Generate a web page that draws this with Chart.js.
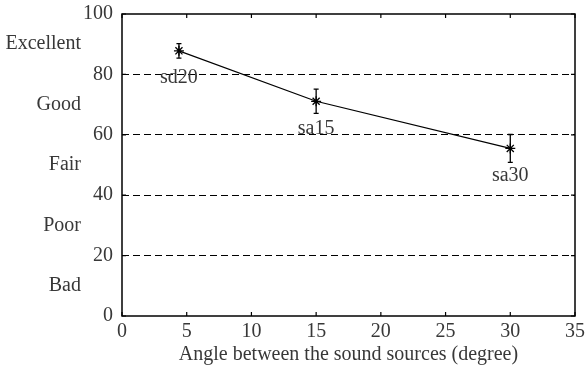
<!DOCTYPE html>
<html>
<head>
<meta charset="utf-8">
<script src="https://cdn.jsdelivr.net/npm/chart.js@4"></script>
<style>body{margin:0;background:#fff}</style>
</head>
<body>
<div style="width:586px;height:372px"><canvas id="chart"></canvas></div>
<script>
// values
const angles = [4.4, 15, 30];
const scores = [87.8, 71.1, 55.5];
const errors = [2.4, 4.0, 4.6];
const pointNames = ['sd20', 'sa15', 'sa30'];
const ratingNames = ['Excellent', 'Good', 'Fair', 'Poor', 'Bad'];
const ratingValues = [90, 70, 50, 30, 10];
const yTicks = [0, 20, 40, 60, 80, 100];
const xTicks = [0, 5, 10, 15, 20, 25, 30, 35];

const FONT = 'Liberation Serif';
const TEXT = '#383838';

const decorations = {
    id: 'decorations',
    afterDatasetsDraw: (chart) => {
        const ctx = chart.ctx;
        const a = chart.chartArea;
        const x = chart.scales.x;
        const y = chart.scales.y;
        ctx.save();
        ctx.strokeStyle = '#000';
        ctx.lineWidth = 1.3;

        // error bars
        for (let i = 0; i < angles.length; i++) {
            const px = x.getPixelForValue(angles[i]);
            const top = y.getPixelForValue(scores[i] + errors[i]);
            const bot = y.getPixelForValue(scores[i] - errors[i]);
            ctx.beginPath();
            ctx.moveTo(px, top); ctx.lineTo(px, bot);
            ctx.moveTo(px - 2.5, top); ctx.lineTo(px + 2.5, top);
            ctx.moveTo(px - 2.5, bot); ctx.lineTo(px + 2.5, bot);
            ctx.stroke();
        }

        // box
        ctx.lineWidth = 1.5;
        ctx.strokeRect(a.left, a.top, a.right - a.left, a.bottom - a.top);

        // inward tick marks
        ctx.lineWidth = 1.2;
        ctx.beginPath();
        xTicks.forEach(v => {
            const px = x.getPixelForValue(v);
            ctx.moveTo(px, a.bottom); ctx.lineTo(px, a.bottom - 4);
            ctx.moveTo(px, a.top); ctx.lineTo(px, a.top + 4);
        });
        yTicks.forEach(v => {
            const py = y.getPixelForValue(v);
            ctx.moveTo(a.left, py); ctx.lineTo(a.left + 4, py);
            ctx.moveTo(a.right, py); ctx.lineTo(a.right - 4, py);
        });
        ctx.stroke();

        // point names
        ctx.fillStyle = TEXT;
        ctx.font = '20px "' + FONT + '"';
        ctx.textAlign = 'center';
        ctx.textBaseline = 'middle';
        for (let i = 0; i < pointNames.length; i++) {
            const px = x.getPixelForValue(angles[i]);
            const py = y.getPixelForValue(scores[i]);
            ctx.fillText(pointNames[i], px, py + 27);
        }

        // rating words beside the y axis
        ctx.textAlign = 'right';
        for (let i = 0; i < ratingNames.length; i++) {
            ctx.fillText(ratingNames[i], 81, y.getPixelForValue(ratingValues[i]));
        }
        ctx.restore();
    }
};

const ctx = document.getElementById('chart').getContext('2d');
const chart = new Chart(ctx, {
    type: 'scatter',
    plugins: [decorations],
    data: {
        datasets: [{
            data: angles.map((v, i) => ({x: v, y: scores[i]})),
            showLine: true,
            borderColor: '#000',
            borderWidth: 1.2,
            pointStyle: 'star',
            pointRadius: 5,
            pointBorderColor: '#000',
            pointBorderWidth: 1.3,
            pointBackgroundColor: '#000'
        }]
    },
    options: {
        responsive: true,
        maintainAspectRatio: false,
        animation: false,
        layout: {padding: {top: 14, right: 11, left: 0, bottom: 5}},
        plugins: {legend: {display: false}, tooltip: {enabled: false}},
        scales: {
            x: {
                type: 'linear',
                min: 0,
                max: 35,
                afterBuildTicks: (s) => { s.ticks = xTicks.map(v => ({value: v})); },
                afterFit: (s) => { s.height = 51; s.paddingLeft = 0; s.paddingRight = 0; },
                grid: {display: false, drawTicks: false},
                border: {display: false},
                ticks: {color: TEXT, padding: 4, font: {family: FONT, size: 20}, maxRotation: 0},
                title: {
                    display: true,
                    text: 'Angle between the sound sources (degree)',
                    color: TEXT,
                    font: {family: FONT, size: 20},
                    padding: 0
                }
            },
            y: {
                min: 0,
                max: 100,
                afterBuildTicks: (s) => { s.ticks = yTicks.map(v => ({value: v})); },
                afterFit: (s) => { s.width = 122; s.paddingTop = 0; s.paddingBottom = 0; },
                grid: {
                    drawTicks: false,
                    lineWidth: 1,
                    color: (c) => (c.tick && (c.tick.value === 0 || c.tick.value === 100)) ? 'rgba(0,0,0,0)' : '#000'
                },
                border: {display: false, dash: [7, 4]},
                ticks: {color: TEXT, padding: 9, font: {family: FONT, size: 20}}
            }
        }
    }
});
</script>
</body>
</html>
